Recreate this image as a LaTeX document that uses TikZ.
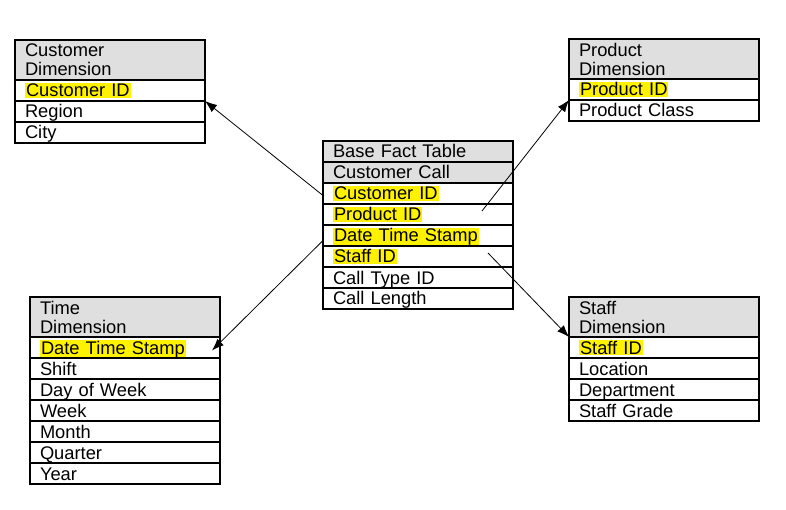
\documentclass[tikz,border=0pt]{standalone}
\usepackage{fontspec}
\setmainfont{Liberation Sans}
\usetikzlibrary{arrows.meta}
\newcommand{\hl}[1]{{\setlength{\fboxsep}{1pt}\colorbox{yellow}{#1}}}
\begin{document}
\begin{tikzpicture}[x=1pt, y=-1pt, line width=1.2pt,
  every node/.style={font=\fontsize{18.3}{19}\selectfont, inner sep=0pt, outer sep=0pt},
  tabhead/.style={draw, fill=gray!25, anchor=north west, minimum width=190pt, minimum height=40pt,
    text width=170pt, align=left},
  tabrow/.style={draw, anchor=north west, minimum width=190pt, minimum height=21pt,
    text width=170pt, align=left, text height=15pt, text depth=2pt},
  factrow/.style={tabrow, fill=gray!25},
  fk/.style={line width=0.8pt, -{Latex[length=12pt,width=9pt]}}]
  \useasboundingbox (0,0) rectangle (786,510);
  % customer dimension
  \node[tabhead] (cdh) at (15,40) {Customer\\Dimension};
  \node[tabrow] (cdid) at (cdh.south west) {\hl{Customer ID}};
  \node[tabrow] (cdreg) at (cdid.south west) {Region};
  \node[tabrow] (cdcity) at (cdreg.south west) {City};
  % product dimension
  \node[tabhead] (pdh) at (569,39) {Product\\Dimension};
  \node[tabrow] (pdid) at (pdh.south west) {\hl{Product ID}};
  \node[tabrow] (pdcls) at (pdid.south west) {Product Class};
  % base fact table
  \node[factrow] (fh1) at (323,141) {Base Fact Table};
  \node[factrow] (fh2) at (fh1.south west) {Customer Call};
  \node[tabrow] (fcid) at (fh2.south west) {\hl{Customer ID}};
  \node[tabrow] (fpid) at (fcid.south west) {\hl{Product ID}};
  \node[tabrow] (fdts) at (fpid.south west) {\hl{Date Time Stamp}};
  \node[tabrow] (fsid) at (fdts.south west) {\hl{Staff ID}};
  \node[tabrow] (fctype) at (fsid.south west) {Call Type ID};
  \node[tabrow] (fclen) at (fctype.south west) {Call Length};
  % time dimension
  \node[tabhead] (tdh) at (30,297) {Time\\Dimension};
  \node[tabrow] (tdts) at (tdh.south west) {\hl{Date Time Stamp}};
  \node[tabrow] (tdshift) at (tdts.south west) {Shift};
  \node[tabrow] (tddow) at (tdshift.south west) {Day of Week};
  \node[tabrow] (tdweek) at (tddow.south west) {Week};
  \node[tabrow] (tdmonth) at (tdweek.south west) {Month};
  \node[tabrow] (tdqtr) at (tdmonth.south west) {Quarter};
  \node[tabrow] (tdyear) at (tdqtr.south west) {Year};
  % staff dimension
  \node[tabhead] (sdh) at (569,297) {Staff\\Dimension};
  \node[tabrow] (sdid) at (sdh.south west) {\hl{Staff ID}};
  \node[tabrow] (sdloc) at (sdid.south west) {Location};
  \node[tabrow] (sddept) at (sdloc.south west) {Department};
  \node[tabrow] (sdgrade) at (sddept.south west) {Staff Grade};
  % keys
  \draw[fk] ([yshift=-2pt]fcid.west) -- (cdid.south east);
  \draw[fk] ([xshift=-31pt,yshift=3.5pt]fpid.east) -- (pdid.south west);
  \draw[fk] ([yshift=-5pt]fdts.west) -- ([xshift=-8pt,yshift=-3pt]tdts.east);
  \draw[fk] ([xshift=-25pt,yshift=3.5pt]fsid.east) -- (sdid.north west);
\end{tikzpicture}
\end{document}
